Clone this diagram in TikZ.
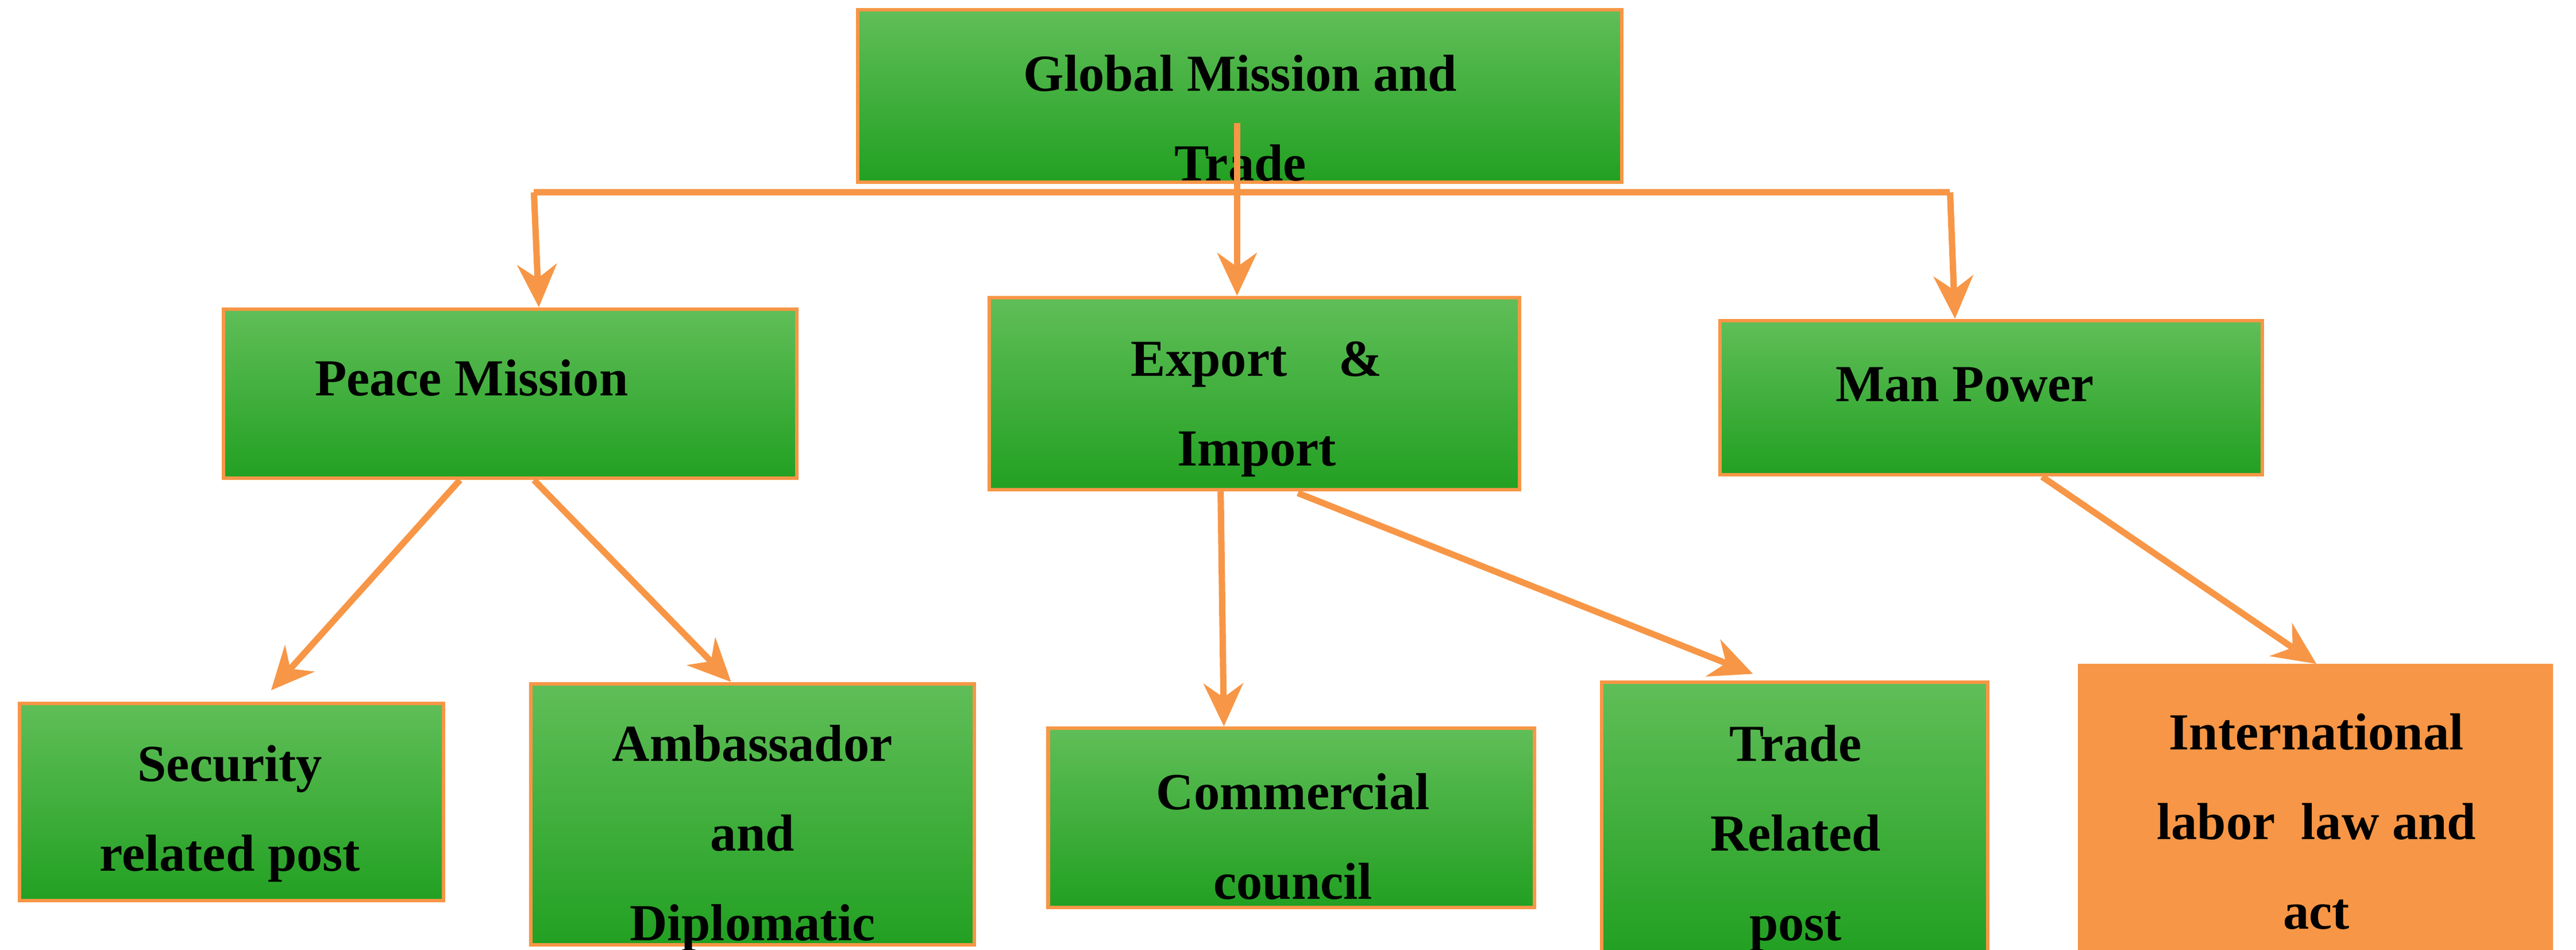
\documentclass[tikz,border=0pt]{standalone}
\usepackage{fontspec}
\setmainfont{Liberation Serif}
\usetikzlibrary{arrows.meta,calc}
\tikzset{>={Stealth[length=2.6mm,width=2.4mm]}}
\definecolor{boxedge}{RGB}{247,150,70}
\definecolor{greentop}{RGB}{96,190,88}
\definecolor{greenbot}{RGB}{34,160,34}
\tikzset{
  gbox/.style = {draw = boxedge, line width = 0.6pt, top color = greentop, bottom color = greenbot, inner sep = 0pt},
  obox/.style = {draw = boxedge, line width = 0.6pt, fill = boxedge, inner sep = 0pt},
  txt/.style = {font = \fontsize{9}{15.5}\selectfont\bfseries, align = center, inner sep = 0pt},
  link/.style = {draw = boxedge, line width = 1.1pt}
}
\newcommand{\boxat}[6]{% name, style, x1, y1, x2, y2
  \node (#1) [#2, minimum width = {(#5-#3)*0.01cm}, minimum height = {(#6-#4)*0.01cm}]
    at ({(#3+#5)/2}, {(#4+#6)/2}) {};}
\begin{document}
\begin{tikzpicture}[x = 0.01cm, y = -0.01cm]
  \useasboundingbox (0,0) rectangle (1568,578);
  \begin{scope}
  \clip (0,0) rectangle (1568,578);
  % boxes
  \boxat{global}{gbox}{522}{6}{987}{111}
  \boxat{peace}{gbox}{136}{188}{485}{291}
  \boxat{export}{gbox}{602}{181}{925}{298}
  \boxat{man}{gbox}{1047}{195}{1377}{289}
  \boxat{security}{gbox}{12}{428}{270}{548}
  \boxat{ambass}{gbox}{323}{416}{593}{575}
  \boxat{commerce}{gbox}{638}{443}{934}{552}
  \boxat{trade}{gbox}{975}{415}{1210}{580}
  \boxat{intl}{obox}{1266}{405}{1553}{580}
  % texts
  \node (global-t) [txt] at (755,72) {Global Mission and\\Trade};
  \node (peace-t) [txt] at (287,230) {Peace Mission};
  \node (export-t) [txt] at (765,249) {Export\quad\&\\Import};
  \node (man-t) [txt] at (1196,234) {Man Power};
  \node (security-t) [txt] at (140,495) {Security\\related post};
  \node (ambass-t) [txt] at (458,510) {Ambassador\\and\\Diplomatic};
  \node (commerce-t) [txt] at (787,509) {Commercial\\council};
  \node (trade-t) [txt] at (1093,510) {Trade\\Related\\post};
  \node (intl-t) [txt] at (1410,500) {International\\labor\ \ law and\\act};
  % connectors
  \coordinate (bus-l) at (325,117);
  \coordinate (bus-m) at (753,117);
  \coordinate (bus-r) at (1187,117);
  \path[link] (753,75) -- (bus-m);
  \path[link] (bus-l) -- (bus-r);
  \draw[link, ->] (bus-l) -- (peace.north -| 328,0);
  \draw[link, ->] (bus-m) -- (export.north -| 753,0);
  \draw[link, ->] (bus-r) -- (man.north -| 1190,0);
  \draw[link, ->] (peace.south -| 280,0) -- (165,420);
  \draw[link, ->] (peace.south -| 325,0) -- (ambass.north -| 445,0);
  \draw[link, ->] (export.south -| 743,0) -- (commerce.north -| 745,0);
  \draw[link, ->] (790,300) -- (1067,410);
  \draw[link, ->] (man.south -| 1243,0) -- (intl.north -| 1410,0);
  \end{scope}
\end{tikzpicture}
\end{document}
